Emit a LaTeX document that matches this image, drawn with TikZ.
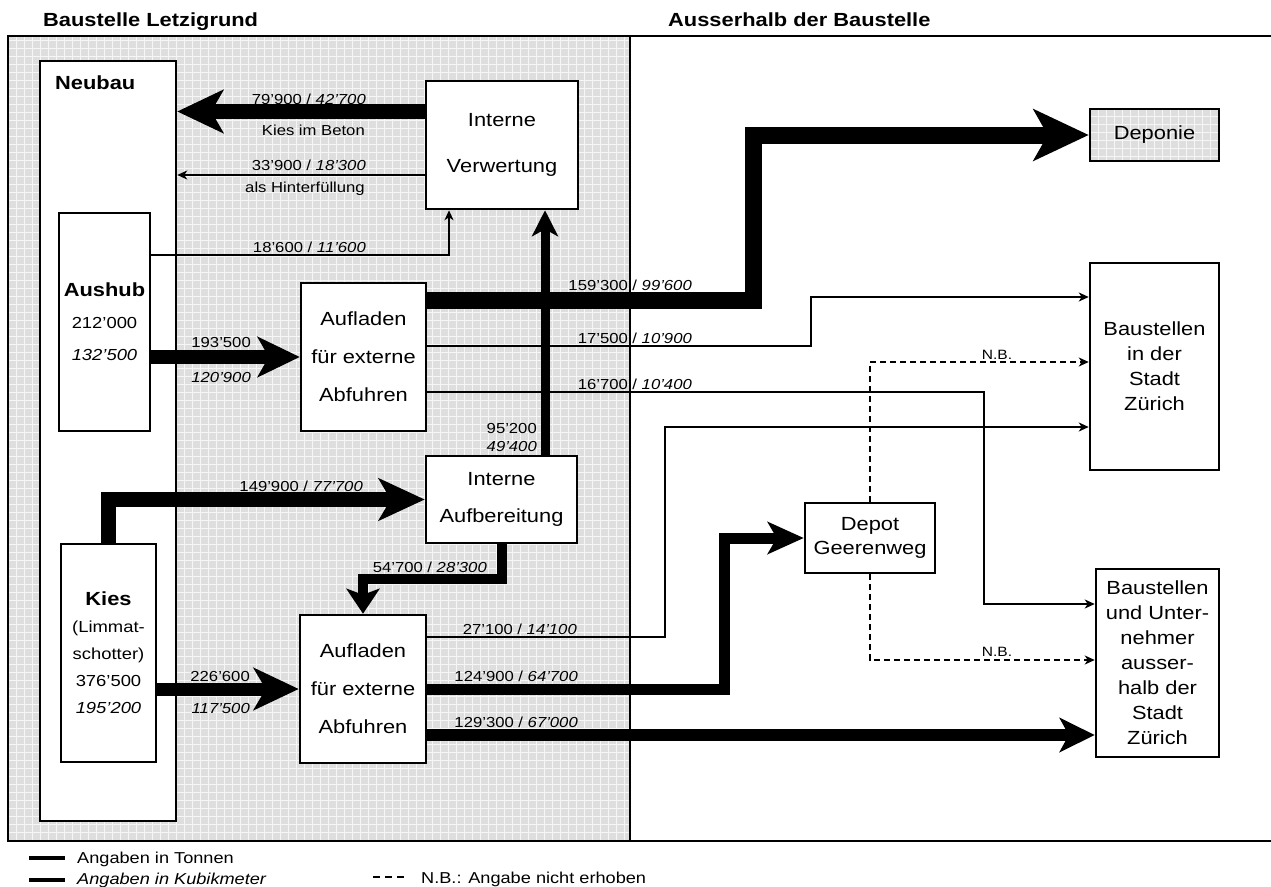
\documentclass[tikz,border=0pt]{standalone}
\usepackage{fontspec}
\setmainfont{Liberation Sans}[FakeStretch=1.15]
\usetikzlibrary{arrows.meta}
\definecolor{sitegray}{RGB}{222,222,222}
\definecolor{gridgray}{RGB}{246,246,246}

\begin{document}
\begin{tikzpicture}
        [
            x=1pt, y=-1pt,
            box/.style={rectangle, line width=2.5pt, draw=black, fill=white, inner sep=0pt, align=center, font=\fontsize{19}{#1}\selectfont},
            box/.default=25,
            sitefill/.style={fill=sitegray, path picture={\draw[gridgray, line width=0.6pt, step=8pt] (path picture bounding box.south west) grid (path picture bounding box.north east);}},
            lab/.style={inner sep=0pt, font=\fontsize{14.5}{17}\selectfont},
            title/.style={inner sep=0pt, font=\fontsize{19}{22}\selectfont\bfseries},
            thinflow/.style={line width=2pt, -{Stealth[length=10pt, width=9pt, inset=3pt]}},
            nbflow/.style={line width=1.5pt, dash pattern=on 6pt off 4pt, -{Stealth[length=10pt, width=9pt, inset=3pt]}},
            bigflow/.style args={#1/#2/#3/#4}{line width=#1pt, -{Stealth[length=#2pt, width=#3pt, inset=#4pt]}}
        ]
        \useasboundingbox (0,0) rectangle (1271,886);
        % Baustelle
        \fill[sitegray] (8,36) rectangle (630,841);
        \draw[gridgray, line width=0.6pt, step=8pt] (8,841) grid (630,36);
        \draw[line width=2pt] (1271,36) -- (8,36) -- (8,841) -- (1271,841);
        \draw[line width=2pt] (630,36) -- (630,841);
        \node[title, anchor=base west] (site) at (43,27) {Baustelle Letzigrund};
        \node[title, anchor=base west] (outside) at (668,27) {Ausserhalb der Baustelle};
        % Neubau, Aushub, Kies
        \node[box, minimum width=136pt, minimum height=760pt] (neubau) at (108,441) {};
        \node[title, anchor=base west] (neubautitle) at (55,89) {Neubau};
        \node[box, font=\fontsize{16}{32}\selectfont, minimum width=91pt, minimum height=218pt] (aushub) at (104.5,322)
            {{\fontsize{19}{32}\selectfont\bfseries Aushub}\\212'000\\\textit{132'500}};
        \node[box, font=\fontsize{16}{27}\selectfont, minimum width=95pt, minimum height=218pt] (kies) at (108.5,653)
            {{\fontsize{19}{27}\selectfont\bfseries Kies}\\(Limmat-\\schotter)\\376'500\\\textit{195'200}};
        % Verwertung, Aufbereitung, Aufladen
        \node[box=46, minimum width=152pt, minimum height=128pt] (verw) at (502,145) {Interne\\Verwertung};
        \node[box=38, minimum width=125pt, minimum height=148pt] (aufl1) at (363.5,357) {Aufladen\\für externe\\Abfuhren};
        \node[box=37, minimum width=151pt, minimum height=87pt] (aufb) at (501.5,499.5) {Interne\\Aufbereitung};
        \node[box=38, minimum width=126pt, minimum height=148pt] (aufl2) at (363,689) {Aufladen\\für externe\\Abfuhren};
        % Ziele
        \node[box, sitefill, minimum width=129pt, minimum height=52pt] (deponie) at (1154.5,135) {Deponie};
        \node[box, minimum width=129pt, minimum height=207pt] (stadt) at (1154.5,366.5) {Baustellen\\in der\\Stadt\\Zürich};
        \node[box=24, minimum width=130pt, minimum height=70pt] (depot) at (870,538) {Depot\\Geerenweg};
        \node[box, minimum width=123pt, minimum height=188pt] (extern) at (1157.5,663) {Baustellen\\und Unter-\\nehmer\\ausser-\\halb der\\Stadt\\Zürich};
        % Fluesse zum Neubau
        \draw[bigflow=15/46/43/12] (verw.west |- 0,111.5) -- (neubau.east |- 0,111.5);
        \node[lab, anchor=base east] (l79) at (366,104) {79'900 / \textit{42'700}};
        \node[lab, anchor=base east] (lbeton) at (365,135) {Kies im Beton};
        \draw[thinflow] (verw.west |- 0,175) -- (neubau.east |- 0,175);
        \node[lab, anchor=base east] (l33) at (366,170) {33'900 / \textit{18'300}};
        \node[lab, anchor=base east] (lhint) at (365,192) {als Hinterfüllung};
        \draw[thinflow] (aushub.east |- 0,255) -| (verw.south -| 449,0);
        \node[lab, anchor=base east] (l18) at (366,252) {18'600 / \textit{11'600}};
        % Aushub
        \draw[bigflow=14/42/40/11] (aushub.east |- 0,357) -- (aufl1.west);
        \node[lab, anchor=base east] (l193) at (251,347) {193'500};
        \node[lab, anchor=base east] (l120) at (251,382) {\textit{120'900}};
        \draw[bigflow=17/55/51/14] (aufl1.east |- 0,300) -- (753.5,300) |- (deponie.west);
        \node[lab, anchor=base east] (l159) at (692,290) {159'300 / \textit{99'600}};
        \draw[thinflow] (aufl1.east |- 0,346) -- (811,346) |- (stadt.west |- 0,297);
        \node[lab, anchor=base east] (l17) at (692,343) {17'500 / \textit{10'900}};
        \draw[thinflow] (aufl1.east |- 0,392) -- (984,392) |- (extern.west |- 0,604);
        \node[lab, anchor=base east] (l16) at (692,389) {16'700 / \textit{10'400}};
        % Kies
        \draw[bigflow=15/46/42/12] (kies.north) |- (aufb.west);
        \node[lab, anchor=base east] (l149) at (363,491) {149'900 / \textit{77'700}};
        \draw[bigflow=9/26/26/7] (aufb.north -| 545,0) -- (verw.south -| 545,0);
        \node[lab, anchor=base east] (l95) at (537,433) {95'200};
        \node[lab, anchor=base east] (l49) at (537,451) {\textit{49'400}};
        \draw[bigflow=10/25/33/6] (aufb.south) -- ++(0,35) -| (aufl2.north);
        \node[lab, anchor=base east] (l54) at (487,572) {54'700 / \textit{28'300}};
        \draw[bigflow=13/45/42/12] (kies.east |- 0,689) -- (aufl2.west);
        \node[lab, anchor=base east] (l226) at (250,681) {226'600};
        \node[lab, anchor=base east] (l117) at (250,713) {\textit{117'500}};
        \draw[thinflow] (aufl2.east |- 0,637) -- (665,637) |- (stadt.west |- 0,427);
        \node[lab, anchor=base east] (l27) at (577,634) {27'100 / \textit{14'100}};
        \draw[bigflow=11/36/32/9] (aufl2.east) -- (724.5,689) |- (depot.west);
        \node[lab, anchor=base east] (l124) at (578,681) {124'900 / \textit{64'700}};
        \draw[bigflow=12/35/34/9] (aufl2.east |- 0,735) -- (extern.west |- 0,735);
        \node[lab, anchor=base east] (l129) at (578,727) {129'300 / \textit{67'000}};
        % Depot
        \draw[nbflow] (depot.north) |- (stadt.west |- 0,362);
        \node[lab, font=\fontsize{13.5}{16}\selectfont, anchor=base] (nb1) at (997,359) {N.B.};
        \draw[nbflow] (depot.south) |- (extern.west |- 0,660);
        \node[lab, font=\fontsize{13.5}{16}\selectfont, anchor=base] (nb2) at (997,656) {N.B.};
        % Legende
        \draw[line width=4pt] (29,858) -- (65,858);
        \node[inner sep=0pt, font=\fontsize{15.8}{18}\selectfont, anchor=base west] (leg1) at (77,863) {Angaben in Tonnen};
        \draw[line width=4pt] (29,880) -- (65,880);
        \node[inner sep=0pt, font=\fontsize{15.8}{18}\selectfont\itshape, anchor=base west] (leg2) at (77,884) {Angaben in Kubikmeter};
        \draw[line width=1.5pt, dash pattern=on 7pt off 5pt] (373,877) -- (408,877);
        \node[inner sep=0pt, font=\fontsize{15.8}{18}\selectfont, anchor=base west] (leg3) at (421,883) {N.B.: Angabe nicht erhoben};
    \end{tikzpicture}
\end{document}
